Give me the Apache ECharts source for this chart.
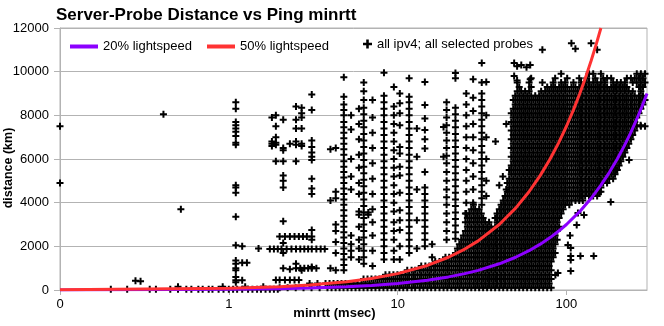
<!DOCTYPE html>
<html><head><meta charset="utf-8">
<script src="https://cdn.jsdelivr.net/npm/echarts@6/dist/echarts.min.js"></script>
<style>html,body{margin:0;padding:0;background:#fff}#c{width:664px;height:326px}</style>
</head><body><div id="c"></div>
<script>
const FONT = '"Liberation Sans", Arial, sans-serif';
const chartTitle = 'Server-Probe Distance vs Ping minrtt';
const seriesNames = ['20% lightspeed', '50% lightspeed', 'all ipv4; all selected probes'];

// reference curves (rtt ms, km)
const light20Rtt = [0.1, 1, 2, 3, 5, 7, 10, 15, 20, 25, 30, 40, 50, 60, 70, 80, 90, 100, 120, 140, 160, 180, 200, 220, 240, 260, 280, 300];
const light20Km = [3, 30, 60, 90, 150, 210, 300, 450, 600, 750, 900, 1200, 1500, 1800, 2100, 2400, 2700, 3000, 3600, 4200, 4800, 5400, 6000, 6600, 7200, 7800, 8400, 9000];
const light50Rtt = [0.1, 1, 2, 3, 5, 7, 10, 15, 20, 25, 30, 40, 50, 60, 70, 80, 90, 100, 110, 120, 130, 140, 150, 160];
const light50Km = [7.5, 75, 150, 225, 375, 525, 750, 1125, 1500, 1875, 2250, 3000, 3750, 4500, 5250, 6000, 6750, 7500, 8250, 9000, 9750, 10500, 11250, 12000];

// probes read as vertical columns: [rtt, [km...]]
const probeColumns = [
  [0.1, [7500, 4900]], [0.28, [420]], [0.3, [400]], [0.41, [8050]], [0.52, [3700]],
  [1.1, [8600, 8300, 7700, 7550, 7400, 7250, 7050, 6750, 6650, 4800, 4700, 4450, 3350, 2050, 1350, 1200, 1000, 900, 600, 450, 350]],
  [1.2, [2000, 1250, 450]], [1.28, [1250]], [1.5, [1900]],
  [1.8, [7900, 6800, 6700, 6600]],
  [1.9, [8000, 7500, 7000, 6750, 6650, 5900]],
  [2.1, [7800, 6500, 6400, 5900, 5250, 5000, 4700, 3150, 2150, 1700, 1000]],
  [2.3, [6700, 950]],
  [2.5, [8400, 7800, 7400, 6800, 6650, 5900, 1200]],
  [2.7, [8350, 8100, 7900, 7400, 6700, 6600, 900]],
  [3.1, [8950, 8250, 6850, 6550, 6300, 6100, 5950, 5100, 4650, 4400, 2750, 2300, 1050]],
  [4.0, [6450, 4100, 1000]],
  [4.3, [6500, 4500, 4200, 3000, 2700, 2200, 1700, 900]],
  [4.8, [9750, 8850, 8500, 8250, 8000, 7700, 7450, 7200, 6950, 6700, 6450, 6200, 5900, 5650, 5400, 5150, 4900, 4650, 4400, 4150, 3900, 3650, 3400, 3150, 2900, 2650, 2400, 2150, 1900, 1650, 1400, 1150, 900]],
  [5.3, [8000, 7350, 6000, 5200, 4600, 2500, 2100, 1800, 1500]],
  [5.9, [8300, 7600, 6900, 6200, 5600, 4900, 4400, 3600, 3450, 2900, 2300, 1900, 1400]],
  [6.3, [9500, 9100, 8700, 8350, 8050, 7750, 7450, 7150, 6850, 6550, 6250, 5950, 5650, 5350, 5050, 4750, 4450, 4150, 3850, 3550, 3300, 3000, 2700, 2400, 2100, 1800, 1500, 1200]],
  [6.7, [3550, 3450]],
  [7.1, [8700, 7900, 7200, 6500, 5800, 5100, 4400, 3700, 3100, 2500, 1800, 1100]],
  [8.3, [9950, 8900, 8600, 8300, 8000, 7700, 7400, 7100, 6800, 6500, 6200, 5900, 5600, 5300, 5000, 4700, 4400, 4100, 3800, 3500, 3200, 2900, 2600, 2300, 2000, 1700, 1400]],
  [9.5, [9300, 8400, 8000, 7600, 7200, 6800, 6400, 6000, 5600, 5200, 4800, 4400, 4000, 3600, 3100, 2700, 2300, 1800, 1400]],
  [10.3, [9000, 8550, 8100, 7550, 6550, 6250, 5650, 5250, 4450, 3650, 3200, 2750, 2000, 1400]],
  [11.7, [9700, 8850, 8600, 8300, 8000, 7700, 7400, 7100, 6800, 6500, 6200, 5900, 5600, 5300, 5000, 4700, 4400, 4100, 3800, 3500, 3200, 2900, 2600, 2300, 2000, 1700]],
  [13, [7400, 6100, 4600, 3200, 1900]],
  [14.5, [9530, 8470, 7860, 7330, 6900, 6480, 5400, 4700, 4400, 4100, 3800, 3500, 3200, 2900, 2600, 2300, 2000]],
  [16, [2100, 1500]], [18.7, [7470, 6100]],
  [19.5, [8600, 8250, 7900, 7550, 7200, 6850, 6500, 6150, 5800, 5400, 5000, 4600, 4250, 3900, 3500, 3100, 2700, 2300]],
  [22, [9940, 9700, 8350, 8050, 7750, 7450, 7150, 6850, 6550, 6250, 5950, 5650, 5350, 5050, 4750, 4450, 4150, 3850, 3550, 3250, 2950, 2650, 2350]],
  [25.5, [9000, 8500, 8000, 7500, 7000, 6500, 6000, 5500, 5000, 4500, 4000, 3500]],
  [28, [9650, 8800, 8200, 7600, 7000, 6400, 5800, 5200, 4600, 4000]],
  [31.5, [10400, 9500, 9000, 8700, 8400, 8100, 7800, 7500, 7200, 6900, 6600, 6300, 6000, 5700, 5400, 5100, 4800, 4500, 4200, 3900]],
  [33.5, [9530, 8000, 7000, 6000, 5000, 4300]],
  [38, [6800]], [40, [4800]], [42, [5200]], [44, [7600, 4600]], [46, [5500]],
  [49, [10400, 9800]], [51, [10250, 9600]], [54, [10300]], [58, [10200]], [61, [10300, 9650]],
  [72, [11000, 9500]], [107, [11300]], [113, [11050]], [140, [11300]], [152, [11000]],
  [86, [690]], [89, [780]], [102, [2060]], [106, [1920, 1560, 1370, 870]], [105, [2500]], [115, [2980]],
  [117, [3530]], [121, [1560]], [127, [3440]], [145, [1560]], [160, [4500]], [183, [4030]],
  [200, [5500]], [235, [5950]], [275, [7550]]
];

// probes read as horizontal rows: [km, [rtt...]]
const probeLowRows = [
  [30, [0.2, 0.25, 0.34, 0.37, 0.45, 0.5, 0.56, 0.6, 0.66, 0.7, 0.76, 0.8, 0.87, 0.93, 1.0, 1.06, 1.12, 1.2, 1.3, 1.38, 1.47, 1.55, 1.65, 1.75, 1.85, 1.95]],
  [150, [0.5, 0.92, 1.25, 1.6]],
  [460, [1.9, 2.0, 2.15, 2.3, 2.45, 2.6]],
  [1000, [2.5, 2.65, 2.8, 2.95, 3.1, 3.3]],
  [1880, [1.75, 1.85, 1.95, 2.05, 2.2, 2.35, 2.5, 2.65, 2.8, 2.95, 3.1, 3.3, 3.5, 3.7]],
  [2450, [2.0, 2.15, 2.3, 2.45, 2.6, 2.75, 2.9, 3.1]]
];

const probeBandRows = [
  [100, [2, 2.23, 2.49, 2.77, 3.09, 3.45, 3.84, 4.06, 4.29, 4.53, 4.78, 5.05, 5.33, 5.63, 5.94, 6.28, 6.63, 7, 7.39, 7.8, 8.24, 8.7, 9.19, 9.7, 10.25, 10.8, 11.4, 12.1, 12.7, 13.5, 14.2, 15, 15.8, 16.7, 17.7, 18.7, 19.7, 20.8, 22, 23.2, 24.5, 25.9, 27.3, 28.8, 30.4, 32.1, 33.9, 35.8, 37.8, 40, 42.2, 44.6, 47.1, 49.7, 52.5, 55.4, 58.5, 61.8, 65.3, 68.9, 72.8, 76.9, 81.2]],
  [300, [3.01, 3.35, 3.74, 3.95, 4.17, 4.41, 4.65, 4.91, 5.19, 5.48, 5.79, 6.11, 6.45, 6.81, 7.19, 7.59, 8.02, 8.47, 8.94, 9.44, 9.97, 10.5, 11.1, 11.7, 12.4, 13.1, 13.8, 14.6, 15.4, 16.3, 17.2, 18.2, 19.2, 20.2, 21.4, 22.6, 23.8, 25.2, 26.6, 28.1, 29.6, 31.3, 33, 34.8, 36.8, 38.8, 41, 43.3, 45.8, 48.4, 51.1, 53.9, 56.9, 60.1, 63.5, 67.1, 70.8, 74.8, 79]],
  [500, [6.28, 6.63, 7, 7.39, 7.8, 8.24, 8.7, 9.19, 9.7, 10.25, 10.8, 11.4, 12.1, 12.7, 13.5, 14.2, 15, 15.8, 16.7, 17.7, 18.7, 19.7, 20.8, 22, 23.2, 24.5, 25.9, 27.3, 28.8, 30.4, 32.1, 33.9, 35.8, 37.8, 40, 42.2, 44.6, 47.1, 49.7, 52.5, 55.4, 58.5, 61.8, 65.3, 68.9, 72.8, 76.9, 81.2]],
  [700, [8.47, 8.94, 9.44, 9.97, 10.5, 11.1, 11.7, 12.4, 13.1, 13.8, 14.6, 15.4, 16.3, 17.2, 18.2, 19.2, 20.2, 21.4, 22.6, 23.8, 25.2, 26.6, 28.1, 29.6, 31.3, 33, 34.8, 36.8, 38.8, 41, 43.3, 45.8, 48.4, 51.1, 53.9, 56.9, 60.1, 63.5, 67.1, 70.8, 74.8, 79]],
  [900, [11.4, 12.1, 12.7, 13.5, 14.2, 15, 15.8, 16.7, 17.7, 18.7, 19.7, 20.8, 22, 23.2, 24.5, 25.9, 27.3, 28.8, 30.4, 32.1, 33.9, 35.8, 37.8, 40, 42.2, 44.6, 47.1, 49.7, 52.5, 55.4, 58.5, 61.8, 65.3, 68.9, 72.8, 76.9, 81.2]],
  [1100, [13.8, 14.6, 15.4, 16.3, 17.2, 18.2, 19.2, 20.2, 21.4, 22.6, 23.8, 25.2, 26.6, 28.1, 29.6, 31.3, 33, 34.8, 36.8, 38.8, 41, 43.3, 45.8, 48.4, 51.1, 53.9, 56.9, 60.1, 63.5, 67.1, 70.8, 74.8, 79]],
  [1300, [16.7, 17.7, 18.7, 19.7, 20.8, 22, 23.2, 24.5, 25.9, 27.3, 28.8, 30.4, 32.1, 33.9, 35.8, 37.8, 40, 42.2, 44.6, 47.1, 49.7, 52.5, 55.4, 58.5, 61.8, 65.3, 68.9, 72.8, 76.9, 81.2]],
  [1500, [19.2, 20.2, 21.4, 22.6, 23.8, 25.2, 26.6, 28.1, 29.6, 31.3, 33, 34.8, 36.8, 38.8, 41, 43.3, 45.8, 48.4, 51.1, 53.9, 56.9, 60.1, 63.5, 67.1, 70.8, 74.8, 79, 83.4]],
  [1700, [22, 23.2, 24.5, 25.9, 27.3, 28.8, 30.4, 32.1, 33.9, 35.8, 37.8, 40, 42.2, 44.6, 47.1, 49.7, 52.5, 55.4, 58.5, 61.8, 65.3, 68.9, 72.8, 76.9, 81.2, 85.7]],
  [1900, [22.6, 23.8, 25.2, 26.6, 28.1, 29.6, 31.3, 33, 34.8, 36.8, 38.8, 41, 43.3, 45.8, 48.4, 51.1, 53.9, 56.9, 60.1, 63.5, 67.1, 70.8, 74.8, 79, 83.4]],
  [2100, [23.2, 24.5, 25.9, 27.3, 28.8, 30.4, 32.1, 33.9, 35.8, 37.8, 40, 42.2, 44.6, 47.1, 49.7, 52.5, 55.4, 58.5, 61.8, 65.3, 68.9, 72.8, 76.9, 81.2, 85.7]],
  [2300, [23.8, 25.2, 26.6, 28.1, 29.6, 31.3, 33, 34.8, 36.8, 38.8, 41, 43.3, 45.8, 48.4, 51.1, 53.9, 56.9, 60.1, 63.5, 67.1, 70.8, 74.8, 79, 83.4, 88.1]],
  [2500, [24.5, 25.9, 27.3, 28.8, 30.4, 32.1, 33.9, 35.8, 37.8, 40, 42.2, 44.6, 47.1, 49.7, 52.5, 55.4, 58.5, 61.8, 65.3, 68.9, 72.8, 76.9, 81.2, 85.7]],
  [2700, [25.2, 26.6, 28.1, 29.6, 31.3, 33, 34.8, 36.8, 38.8, 41, 43.3, 45.8, 48.4, 51.1, 53.9, 56.9, 60.1, 63.5, 67.1, 70.8, 74.8, 79, 83.4, 88.1]],
  [2900, [25.9, 27.3, 28.8, 30.4, 32.1, 33.9, 35.8, 37.8, 40, 42.2, 44.6, 47.1, 49.7, 52.5, 55.4, 58.5, 61.8, 65.3, 68.9, 72.8, 76.9, 81.2, 85.7, 90.5]],
  [3100, [25.2, 26.6, 28.1, 29.6, 31.3, 33, 34.8, 38.8, 41, 43.3, 45.8, 48.4, 51.1, 53.9, 56.9, 60.1, 63.5, 67.1, 70.8, 74.8, 79, 83.4, 88.1]],
  [3300, [25.9, 27.3, 28.8, 30.4, 32.1, 37.8, 40, 42.2, 44.6, 47.1, 49.7, 52.5, 55.4, 58.5, 61.8, 65.3, 68.9, 72.8, 76.9, 81.2, 85.7, 90.5]],
  [3500, [25.2, 26.6, 28.1, 29.6, 31.3, 38.8, 41, 43.3, 45.8, 48.4, 51.1, 53.9, 56.9, 60.1, 63.5, 67.1, 70.8, 74.8, 79, 83.4, 88.1, 93]],
  [3700, [27.3, 28.8, 30.4, 40, 42.2, 44.6, 47.1, 49.7, 52.5, 55.4, 58.5, 61.8, 65.3, 68.9, 72.8, 76.9, 81.2, 85.7, 90.5, 95.6]],
  [3900, [28.1, 41, 43.3, 45.8, 48.4, 51.1, 53.9, 56.9, 60.1, 63.5, 67.1, 70.8, 74.8, 79, 83.4, 88.1, 93, 98.2, 104]]
];

const probeCoreRows = [
  [4100, [42.2, 44.6, 47.1, 49.7, 52.5, 55.4, 58.5, 61.8, 65.3, 68.9, 72.8, 76.9, 81.2, 85.7, 90.5, 95.6, 101, 107, 113, 119, 125]],
  [4300, [43.3, 45.8, 48.4, 51.1, 53.9, 56.9, 60.1, 63.5, 67.1, 70.8, 74.8, 79, 83.4, 88.1, 93, 98.2, 104, 110, 116, 122, 129, 136, 144, 152]],
  [4500, [44.6, 47.1, 49.7, 52.5, 55.4, 58.5, 61.8, 65.3, 68.9, 72.8, 76.9, 81.2, 85.7, 90.5, 95.6, 101, 107, 113, 119, 125, 132, 140, 148, 156]],
  [4700, [45.8, 48.4, 51.1, 53.9, 56.9, 60.1, 63.5, 67.1, 70.8, 74.8, 79, 83.4, 88.1, 93, 98.2, 104, 110, 116, 122, 129, 136, 144, 152, 160]],
  [4900, [44.6, 47.1, 49.7, 52.5, 55.4, 58.5, 61.8, 65.3, 68.9, 72.8, 76.9, 81.2, 85.7, 90.5, 95.6, 101, 107, 113, 119, 125, 132, 140, 148, 156, 165, 174]],
  [5100, [45.8, 48.4, 51.1, 53.9, 56.9, 60.1, 63.5, 67.1, 70.8, 74.8, 79, 83.4, 88.1, 93, 98.2, 104, 110, 116, 122, 129, 136, 144, 152, 160, 169, 179, 189]],
  [5300, [47.1, 49.7, 52.5, 55.4, 58.5, 61.8, 65.3, 68.9, 72.8, 76.9, 81.2, 85.7, 90.5, 95.6, 101, 107, 113, 119, 125, 132, 140, 148, 156, 165, 174, 184, 194]],
  [5500, [45.8, 48.4, 51.1, 53.9, 56.9, 60.1, 63.5, 67.1, 70.8, 74.8, 79, 83.4, 88.1, 93, 98.2, 104, 110, 116, 122, 129, 136, 144, 152, 160, 169, 179, 189, 199]],
  [5700, [47.1, 49.7, 52.5, 55.4, 58.5, 61.8, 65.3, 68.9, 72.8, 76.9, 81.2, 85.7, 90.5, 95.6, 101, 107, 113, 119, 125, 132, 140, 148, 156, 165, 174, 184, 194, 205]],
  [5900, [48.4, 51.1, 53.9, 56.9, 60.1, 63.5, 67.1, 70.8, 74.8, 79, 83.4, 88.1, 93, 98.2, 104, 110, 116, 122, 129, 136, 144, 152, 160, 169, 179, 189, 199, 210]],
  [6100, [47.1, 49.7, 52.5, 55.4, 58.5, 61.8, 65.3, 68.9, 72.8, 76.9, 81.2, 85.7, 90.5, 95.6, 101, 107, 113, 119, 125, 132, 140, 148, 156, 165, 174, 184, 194, 205, 216]],
  [6300, [48.4, 51.1, 53.9, 56.9, 60.1, 63.5, 67.1, 70.8, 74.8, 79, 83.4, 88.1, 93, 98.2, 104, 110, 116, 122, 129, 136, 144, 152, 160, 169, 179, 189, 199, 210, 222]],
  [6500, [47.1, 49.7, 52.5, 55.4, 58.5, 61.8, 65.3, 68.9, 72.8, 76.9, 81.2, 85.7, 90.5, 95.6, 101, 107, 113, 119, 125, 132, 140, 148, 156, 165, 174, 184, 194, 205, 216, 228]],
  [6700, [48.4, 51.1, 53.9, 56.9, 60.1, 63.5, 67.1, 70.8, 74.8, 79, 83.4, 88.1, 93, 98.2, 104, 110, 116, 122, 129, 136, 144, 152, 160, 169, 179, 189, 199, 210, 222, 234]],
  [6900, [47.1, 49.7, 52.5, 55.4, 58.5, 61.8, 65.3, 68.9, 72.8, 76.9, 81.2, 85.7, 90.5, 95.6, 101, 107, 113, 119, 125, 132, 140, 148, 156, 165, 174, 184, 194, 205, 216, 228, 241]],
  [7100, [48.4, 51.1, 53.9, 56.9, 60.1, 63.5, 67.1, 70.8, 74.8, 79, 83.4, 88.1, 93, 98.2, 104, 110, 116, 122, 129, 136, 144, 152, 160, 169, 179, 189, 199, 210, 222, 234, 247]],
  [7300, [47.1, 49.7, 52.5, 55.4, 58.5, 61.8, 65.3, 68.9, 72.8, 76.9, 81.2, 85.7, 90.5, 95.6, 101, 107, 113, 119, 125, 132, 140, 148, 156, 165, 174, 184, 194, 205, 216, 228, 241, 254]],
  [7500, [48.4, 51.1, 53.9, 56.9, 60.1, 63.5, 67.1, 70.8, 74.8, 79, 83.4, 88.1, 93, 98.2, 104, 110, 116, 122, 129, 136, 144, 152, 160, 169, 179, 189, 199, 210, 222, 234, 247, 261, 276, 292]],
  [7700, [47.1, 49.7, 52.5, 55.4, 58.5, 61.8, 65.3, 68.9, 72.8, 76.9, 81.2, 85.7, 90.5, 95.6, 101, 107, 113, 119, 125, 132, 140, 148, 156, 165, 174, 184, 194, 205, 216, 228, 241, 254]],
  [7900, [48.4, 51.1, 53.9, 56.9, 60.1, 63.5, 67.1, 70.8, 74.8, 79, 83.4, 88.1, 93, 98.2, 104, 110, 116, 122, 129, 136, 144, 152, 160, 169, 179, 189, 199, 210, 222, 234, 247, 261]],
  [8100, [47.1, 49.7, 52.5, 55.4, 58.5, 61.8, 65.3, 68.9, 72.8, 76.9, 81.2, 85.7, 90.5, 95.6, 101, 107, 113, 119, 125, 132, 140, 148, 156, 165, 174, 184, 194, 205, 216, 228, 241, 254, 269]],
  [8300, [48.4, 51.1, 53.9, 56.9, 60.1, 63.5, 67.1, 70.8, 74.8, 79, 83.4, 88.1, 93, 98.2, 104, 110, 116, 122, 129, 136, 144, 152, 160, 169, 179, 189, 199, 210, 222, 234, 247, 261, 276]],
  [8500, [49.7, 52.5, 55.4, 58.5, 61.8, 65.3, 68.9, 72.8, 76.9, 81.2, 85.7, 90.5, 95.6, 101, 107, 113, 119, 125, 132, 140, 148, 156, 165, 174, 184, 194, 205, 216, 228, 241, 254, 269, 284]],
  [8700, [48.4, 51.1, 53.9, 56.9, 60.1, 63.5, 67.1, 70.8, 74.8, 79, 83.4, 88.1, 93, 98.2, 104, 110, 116, 122, 129, 136, 144, 152, 160, 169, 179, 189, 199, 210, 222, 234, 247, 261, 276, 292]],
  [8900, [49.7, 52.5, 55.4, 58.5, 61.8, 65.3, 68.9, 72.8, 76.9, 81.2, 85.7, 90.5, 95.6, 101, 107, 113, 119, 125, 132, 140, 148, 156, 165, 174, 184, 194, 205, 216, 228, 241, 254, 269, 284]],
  [9100, [51.1, 53.9, 56.9, 60.1, 70.8, 74.8, 79, 83.4, 88.1, 93, 98.2, 104, 110, 116, 122, 129, 136, 144, 152, 160, 169, 179, 189, 199, 210, 222, 234, 247, 276]],
  [9300, [52.5, 61.8, 76.9, 81.2, 85.7, 90.5, 95.6, 101, 107, 113, 119, 125, 132, 140, 148, 156, 165, 174, 184, 194, 205, 216, 228, 269, 284]],
  [9500, [51.1, 60.1, 83.4, 93, 98.2, 110, 122, 129, 136, 144, 152, 160, 169, 189, 199, 210, 222, 247, 261, 276, 292]],
  [9700, [61.8, 85.7, 101, 119, 132, 148, 165, 174, 184, 228, 241, 254, 269, 284]],
  [9900, [93, 136, 144, 160, 261, 276, 292]]
];

const PLUS = 'path://M2.5,0H4.5V2.5H7V4.5H4.5V7H2.5V4.5H0V2.5H2.5Z';

const probeData = [];
probeColumns.forEach(([rtt, kms]) => kms.forEach(km => probeData.push([rtt, km])));
[probeLowRows, probeBandRows, probeCoreRows].forEach(rows =>
  rows.forEach(([km, rtts]) => rtts.forEach(rtt => probeData.push([rtt, km]))));
const line20 = light20Rtt.map((r, i) => [r, light20Km[i]]);
const line50 = light50Rtt.map((r, i) => [r, light50Km[i]]);

const chart = echarts.init(document.getElementById('c'), null, {renderer: 'canvas'});
const legendText = {fontSize: 13, color: '#000', fontFamily: FONT};
chart.setOption({
  animation: false,
  backgroundColor: '#fff',
  textStyle: {fontFamily: FONT},
  title: {text: chartTitle, left: 56, top: 7, padding: 0,
    textStyle: {fontSize: 17, fontWeight: 'bold', color: '#000', fontFamily: FONT}},
  grid: {left: 60, right: 17, top: 28, bottom: 36, show: true, borderColor: '#b3b3b3', borderWidth: 1,
    backgroundColor: 'transparent', outerBoundsMode: 'none'},
  legend: [
    {data: [{name: seriesNames[0], icon: 'rect'}], left: 70, top: 40, padding: 0, itemWidth: 28, itemHeight: 4, textStyle: legendText, selectedMode: false},
    {data: [{name: seriesNames[1], icon: 'rect'}], left: 207, top: 40, padding: 0, itemWidth: 28, itemHeight: 4, textStyle: legendText, selectedMode: false},
    {data: [{name: seriesNames[2], icon: PLUS, itemStyle: {opacity: 1}}], left: 363, top: 37.5, padding: 0, itemWidth: 9, itemHeight: 9, textStyle: legendText, selectedMode: false}
  ],
  xAxis: {
    type: 'log', logBase: 10, min: 0.1, max: 300,
    name: 'minrtt (msec)', nameLocation: 'middle', nameGap: 17, nameMoveOverlap: false,
    nameTextStyle: {fontWeight: 'bold', fontSize: 13, color: '#000', fontFamily: FONT, padding: [0, 38, 0, 0]},
    axisLine: {show: true, lineStyle: {color: '#b3b3b3', width: 1}},
    axisTick: {show: true, length: 5, lineStyle: {color: '#b3b3b3'}},
    axisLabel: {color: '#000', fontSize: 13, margin: 8, showMaxLabel: false, fontFamily: FONT,
      formatter: v => (v < 1 ? '0' : String(Math.round(v)))},
    splitLine: {show: false}
  },
  yAxis: {
    type: 'value', min: 0, max: 12000, interval: 2000,
    name: 'distance (km)', nameLocation: 'middle', nameGap: 45, nameMoveOverlap: false,
    nameTextStyle: {fontWeight: 'bold', fontSize: 12.5, color: '#000', fontFamily: FONT, padding: [0, 18, 0, 0]},
    axisLine: {show: true, lineStyle: {color: '#b3b3b3', width: 1}},
    axisTick: {show: true, length: 6, lineStyle: {color: '#b3b3b3'}},
    axisLabel: {color: '#000', fontSize: 13, margin: 11, fontFamily: FONT, formatter: v => String(v)},
    splitLine: {show: true, lineStyle: {color: '#b3b3b3', width: 1}}
  },
  series: [
    {name: seriesNames[2], type: 'scatter', data: probeData, symbol: PLUS, symbolSize: 7,
      itemStyle: {color: '#000', opacity: 1}, clip: false, silent: true, progressive: 0, large: false, z: 2},
    {name: seriesNames[0], type: 'line', data: line20, symbol: 'none', showSymbol: false,
      lineStyle: {color: '#8c00ff', width: 3}, itemStyle: {color: '#8c00ff'}, silent: true, z: 3},
    {name: seriesNames[1], type: 'line', data: line50, symbol: 'none', showSymbol: false,
      lineStyle: {color: '#ff3333', width: 3}, itemStyle: {color: '#ff3333'}, silent: true, z: 3}
  ]
});
</script>
</body></html>
